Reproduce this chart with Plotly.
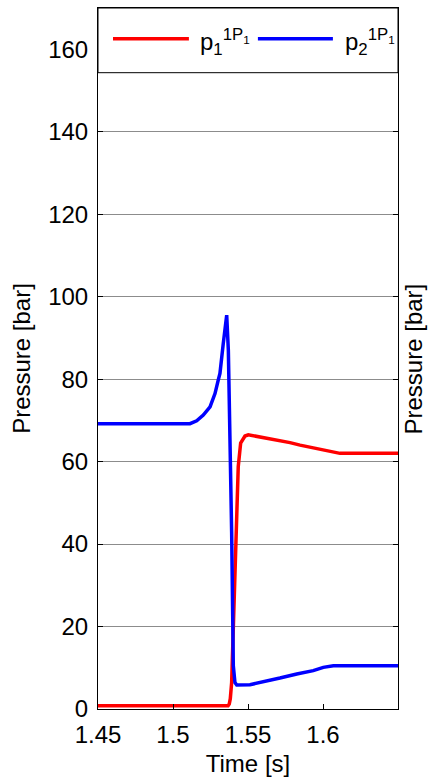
import plotly.graph_objects as go

# ---- data ----
time_red = [1.45, 1.5367, 1.5375, 1.5382, 1.5391, 1.5402, 1.5413, 1.5424, 1.5435, 1.5451,
            1.548, 1.5502, 1.555, 1.5625, 1.570, 1.578, 1.5847, 1.592, 1.6002, 1.606,
            1.6113, 1.62, 1.65]
p1 = [0.8, 0.8, 1.2, 2.5, 6.4, 20.0, 34.6, 47.0, 58.8, 64.5,
      66.2, 66.5, 66.2, 65.7, 65.2, 64.6, 64.0, 63.4, 62.8, 62.4,
      62.0, 62.0, 62.0]

time_blue = [1.45, 1.5113, 1.5158, 1.5202, 1.5247, 1.528, 1.5302, 1.5313, 1.5335, 1.5358,
             1.5369, 1.538, 1.5391, 1.5398, 1.5402, 1.5413, 1.5425, 1.5513, 1.558, 1.5647,
             1.5713, 1.5825, 1.5935, 1.6002, 1.6069, 1.65]
p2 = [69.2, 69.2, 69.9, 71.3, 73.3, 76.5, 79.8, 81.4, 88.6, 95.5,
      87.0, 66.9, 42.8, 22.6, 10.5, 6.4, 5.8, 5.9, 6.4, 7.1,
      7.5, 8.5, 9.3, 10.1, 10.5, 10.5]

x_ticks = [1.45, 1.5, 1.55, 1.6]
x_ticklabels = ["1.45", "1.5", "1.55", "1.6"]
y_ticks = [0, 20, 40, 60, 80, 100, 120, 140, 160]

label1 = "p<sub>1</sub><sup>1P<sub>1</sub></sup>"
label2 = "p<sub>2</sub><sup>1P<sub>1</sub></sup>"

FONT = "Liberation Sans, Arial, sans-serif"
FS = 24

fig = go.Figure()
fig.add_trace(go.Scatter(x=time_red, y=p1, mode="lines", name=label1,
                         line=dict(color="#ff0000", width=3.5), showlegend=False))
fig.add_trace(go.Scatter(x=time_blue, y=p2, mode="lines", name=label2,
                         line=dict(color="#0000ff", width=3.5), showlegend=False))

# legend box drawn manually (long line samples as in the reference)
shapes = [
    dict(type="rect", xref="paper", yref="paper", x0=0, x1=1, y0=0.9077, y1=1,
         fillcolor="white", line=dict(color="black", width=1), layer="above"),
    dict(type="line", xref="paper", yref="paper", x0=0.05, x1=0.303, y0=0.956, y1=0.956,
         line=dict(color="#ff0000", width=3.5), layer="above"),
    dict(type="line", xref="paper", yref="paper", x0=0.533, x1=0.783, y0=0.956, y1=0.956,
         line=dict(color="#0000ff", width=3.5), layer="above"),
]
annotations = [
    dict(text=label1, xref="paper", yref="paper", x=0.333, y=0.952, xanchor="left",
         yanchor="middle", showarrow=False, font=dict(family=FONT, size=FS, color="black")),
    dict(text=label2, xref="paper", yref="paper", x=0.817, y=0.952, xanchor="left",
         yanchor="middle", showarrow=False, font=dict(family=FONT, size=FS, color="black")),
    dict(text="Pressure [bar]", xref="paper", yref="paper", x=1.0533, y=0.5,
         xanchor="center", yanchor="middle", textangle=-90, showarrow=False,
         font=dict(family=FONT, size=FS, color="black")),
]

fig.update_layout(
    width=429, height=780,
    margin=dict(l=98, r=31, t=7, b=69),
    paper_bgcolor="white", plot_bgcolor="white",
    font=dict(family=FONT, size=FS, color="black"),
    shapes=shapes, annotations=annotations,
    xaxis=dict(range=[1.45, 1.65], tickvals=x_ticks, ticktext=x_ticklabels,
               ticks="inside", ticklen=5, tickcolor="black", showgrid=False,
               showline=True, linecolor="black", linewidth=1, mirror=True,
               zeroline=False, ticklabelstandoff=4,
               title=dict(text="Time [s]", standoff=8, font=dict(size=FS))),
    yaxis=dict(range=[0, 170], tickvals=y_ticks, ticks="inside", ticklen=5,
               tickcolor="black", showgrid=True, gridcolor="#8c8c8c", gridwidth=1,
               showline=True, linecolor="black", linewidth=1, mirror="ticks",
               zeroline=False, ticklabelstandoff=4,
               title=dict(text="Pressure [bar]", standoff=10, font=dict(size=FS))),
)

fig.write_html("out.html")
